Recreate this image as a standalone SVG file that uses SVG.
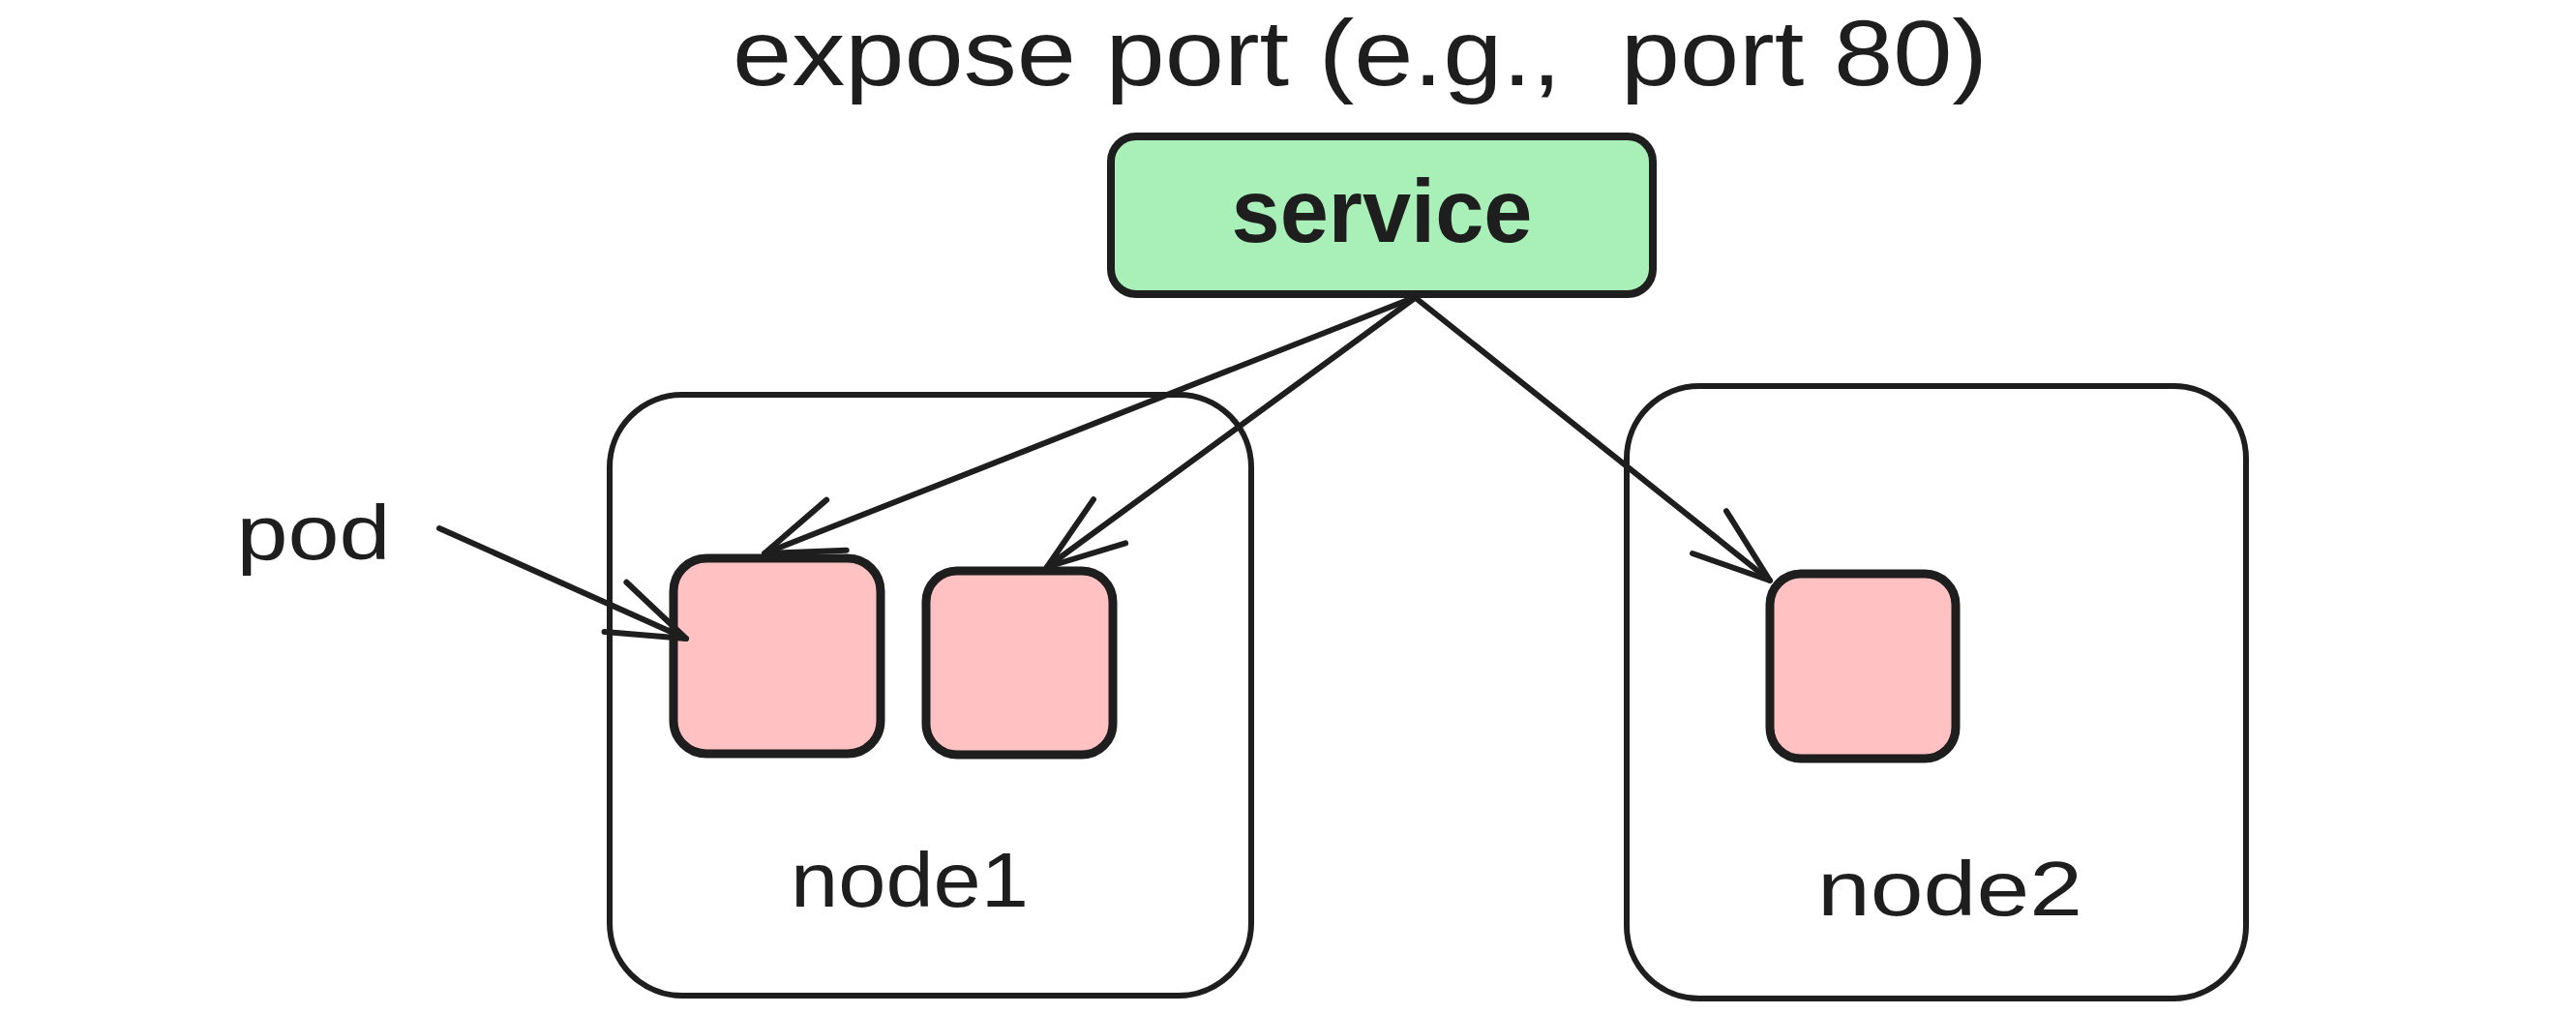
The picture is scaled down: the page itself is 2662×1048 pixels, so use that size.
<svg xmlns="http://www.w3.org/2000/svg" width="2662" height="1048" viewBox="0 0 2662 1048">
  <defs>
    <style>
      .lbl { font-family: "Liberation Sans", "DejaVu Sans", sans-serif; fill: #1e1e1e; }
      .node { fill: #ffffff; stroke: #1e1e1e; stroke-width: 6; }
      .pod { fill: #ffc1c1; stroke: #1e1e1e; stroke-width: 9; }
      .svc { fill: #a8f0b8; stroke: #1e1e1e; stroke-width: 8; }
      .conn { fill: none; stroke: #1e1e1e; stroke-width: 6; stroke-linecap: round; }
    </style>
    <marker id="head" markerUnits="userSpaceOnUse" viewBox="-100 -50 110 100" refX="0" refY="0" markerWidth="110" markerHeight="100" orient="auto" overflow="visible">
      <path d="M -80 -28 L 0 0 L -80 28" fill="none" stroke="#1e1e1e" stroke-width="6" stroke-linecap="round" stroke-linejoin="round"/>
    </marker>
  </defs>
  <rect x="0" y="0" width="2662" height="1048" fill="#ffffff"/>

  <g id="title">
    <text class="lbl" x="757" y="88" font-size="96" textLength="1297" lengthAdjust="spacingAndGlyphs" xml:space="preserve">expose port (e.g.,  port 80)</text>
  </g>

  <g id="node1">
    <rect class="node" x="630" y="408" width="663" height="621" rx="75" ry="75"/>
    <text class="lbl" x="940" y="937" font-size="80" text-anchor="middle" textLength="246" lengthAdjust="spacingAndGlyphs">node1</text>
  </g>

  <g id="node2">
    <rect class="node" x="1681" y="399" width="640" height="633" rx="75" ry="75"/>
    <text class="lbl" x="2015" y="946" font-size="80" text-anchor="middle" textLength="274" lengthAdjust="spacingAndGlyphs">node2</text>
  </g>

  <g id="pod1">
    <rect class="pod" x="696" y="577" width="214" height="202" rx="34" ry="34"/>
  </g>
  <g id="pod2">
    <rect class="pod" x="957" y="590" width="193" height="190" rx="32" ry="32"/>
  </g>
  <g id="pod3">
    <rect class="pod" x="1829" y="593" width="192" height="191" rx="32" ry="32"/>
  </g>

  <g id="service">
    <rect class="svc" x="1148" y="141" width="560" height="163" rx="26" ry="26"/>
    <text class="lbl" x="1428" y="250" font-size="92" font-weight="bold" text-anchor="middle" textLength="311" lengthAdjust="spacingAndGlyphs">service</text>
  </g>

  <g id="pod-label">
    <text class="lbl" x="324" y="578" font-size="80" text-anchor="middle" textLength="159" lengthAdjust="spacingAndGlyphs">pod</text>
  </g>

  <g id="connectors">
    <line class="conn" x1="1460" y1="308" x2="790" y2="572" marker-end="url(#head)"/>
    <line class="conn" x1="1462" y1="308" x2="1082" y2="586" marker-end="url(#head)"/>
    <line class="conn" x1="1463" y1="308" x2="1829" y2="600" marker-end="url(#head)"/>
    <line class="conn" x1="454" y1="546" x2="709" y2="660" marker-end="url(#head)"/>
  </g>
</svg>
